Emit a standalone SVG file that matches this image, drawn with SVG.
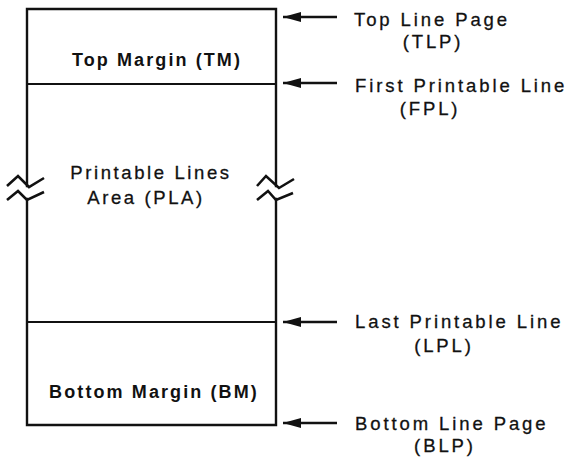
<svg xmlns="http://www.w3.org/2000/svg" width="568" height="459" viewBox="0 0 568 459">
<style>
.ln{stroke:#111;fill:none;stroke-width:2.4;stroke-linecap:square}
.dv{stroke:#111;fill:none;stroke-width:2}
.br{stroke:#111;fill:none;stroke-width:2.6;stroke-linejoin:miter}
.ar{stroke:#111;stroke-width:2.6;fill:none}
.t{font-family:"Liberation Sans",Arial,sans-serif;fill:#111}
.b{font-weight:bold;font-size:18px;letter-spacing:2.1px}
.r{font-size:18.5px;letter-spacing:2.6px;stroke:#111;stroke-width:0.3}
.l{font-size:18.5px;letter-spacing:2.9px;stroke:#111;stroke-width:0.3}
</style>
<defs>
<marker id="ah" markerWidth="19" markerHeight="12" refX="18" refY="6" orient="auto" markerUnits="userSpaceOnUse">
<path d="M0,1 L18,6 L0,11 Z" fill="#111"/>
</marker>
</defs>
<g id="page">
<path class="ln" d="M27,186 L27,9 L276,9 L276,186"/>
<path class="ln" d="M27,199 L27,425 L276,425 L276,199"/>
<path class="br" d="M7,186 L18,176 L29,187 L44,178"/>
<path class="br" d="M7,200 L18,191 L27,200 L44,192"/>
<path class="br" d="M257,186 L266,176 L279,188 L294,179"/>
<path class="br" d="M257,200 L268,191 L276,200 L293,193"/>
</g>
<g id="top-margin">
<line class="dv" x1="27" y1="84" x2="276" y2="84"/>
<text class="t b" x="157" y="66" text-anchor="middle">Top Margin (TM)</text>
</g>
<g id="printable-area">
<text class="t r" x="151" y="179" text-anchor="middle">Printable Lines</text>
<text class="t r" x="146" y="204" text-anchor="middle">Area (PLA)</text>
</g>
<g id="bottom-margin">
<line class="dv" x1="27" y1="322" x2="276" y2="322"/>
<text class="t b" x="154" y="398" text-anchor="middle">Bottom Margin (BM)</text>
</g>
<g id="connectors">
<line class="ar" x1="337" y1="17" x2="283" y2="17" marker-end="url(#ah)"/>
<line class="ar" x1="337" y1="83" x2="283" y2="83" marker-end="url(#ah)"/>
<line class="ar" x1="337" y1="322" x2="283" y2="322" marker-end="url(#ah)"/>
<line class="ar" x1="337" y1="423" x2="283" y2="423" marker-end="url(#ah)"/>
</g>
<g id="label-tlp">
<text class="t l" x="354" y="26">Top Line Page</text>
<text class="t l" x="433" y="48" text-anchor="middle">(TLP)</text>
</g>
<g id="label-fpl">
<text class="t l" x="355" y="92">First Printable Line</text>
<text class="t l" x="430" y="115" text-anchor="middle">(FPL)</text>
</g>
<g id="label-lpl">
<text class="t l" x="355" y="328">Last Printable Line</text>
<text class="t l" x="444" y="352" text-anchor="middle">(LPL)</text>
</g>
<g id="label-blp">
<text class="t l" x="355" y="430">Bottom Line Page</text>
<text class="t l" x="445" y="452" text-anchor="middle">(BLP)</text>
</g>
</svg>
